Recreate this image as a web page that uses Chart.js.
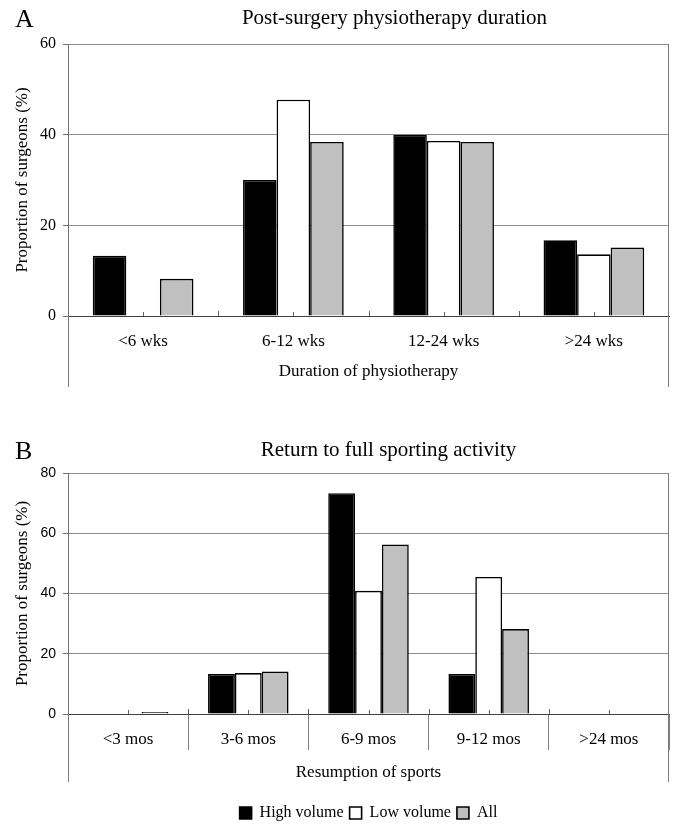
<!DOCTYPE html>
<html>
<head>
<meta charset="utf-8">
<script src="https://cdn.jsdelivr.net/npm/chart.js@4.4.1/dist/chart.umd.min.js"></script>
<style>
  html, body { margin: 0; padding: 0; background: #fff; overflow: hidden; }
  #wrapA { position: absolute; left: 0; top: 0; width: 674px; height: 400px; }
  #wrapB { position: absolute; left: 0; top: 400px; width: 674px; height: 431px; }
</style>
</head>
<body>
<div id="wrapA"><canvas id="chartA" width="674" height="400"></canvas></div>
<div id="wrapB"><canvas id="chartB" width="674" height="431"></canvas></div>
<script>
// Survey answers, % of surgeons in each group
const seriesNames = ['High volume', 'Low volume', 'All'];

const physioCategories = ['<6 wks', '6-12 wks', '12-24 wks', '>24 wks'];
const physioHigh = [13.3, 30.0, 40.0, 16.7];
const physioLow  = [0, 47.7, 38.6, 13.6];
const physioAll  = [8.2, 38.4, 38.4, 15.1];
const physioTicks = [0, 20, 40, 60];

const sportCategories = ['<3 mos', '3-6 mos', '6-9 mos', '9-12 mos', '>24 mos'];
const sportHigh = [0, 13.3, 73.3, 13.3, 0];
const sportLow  = [0, 13.6, 40.9, 45.5, 0];
const sportAll  = [0.7, 14.1, 56.3, 28.2, 0];
const sportTicks = [0, 20, 40, 60, 80];

const SERIF = '"Liberation Serif", "Times New Roman", serif';
const SANS = '"Liberation Sans", Arial, sans-serif';
const fills = ['#000000', '#ffffff', '#c0c0c0'];
const labelFont = { family: SERIF, size: 17 };

function makeDatasets(values) {
  return values.map((v, i) => ({
    label: seriesNames[i],
    data: v,
    backgroundColor: fills[i],
    borderColor: '#000000',
    borderWidth: 1.6,
    barPercentage: 1.0,
    categoryPercentage: 0.67
  }));
}

// Panel letter, heading, axis lines running below the zero line, small ticks on the zero line
function panelDecor(letter, heading, headingY, headingShift, extend) {
  return {
    id: 'panelDecor' + letter,
    afterLayout(chart) {
      // keep the legend row centred under the plot area
      const lg = chart.legend;
      if (lg && lg.options.display) {
        const a = chart.chartArea;
        const shift = (a.left + a.right) / 2 - (lg.left + lg.right) / 2;
        lg.left += shift;
        lg.right += shift;
      }
    },
    afterDatasetsDraw(chart) {
      const { ctx, chartArea: a } = chart;
      const xs = chart.scales.x;
      const n = chart.data.labels.length;
      ctx.save();
      ctx.strokeStyle = '#7a7a7a';
      ctx.lineWidth = 1;
      ctx.beginPath();
      ctx.moveTo(Math.round(a.left) + 0.5, a.bottom);
      ctx.lineTo(Math.round(a.left) + 0.5, a.bottom + extend);
      ctx.moveTo(Math.round(a.right) - 0.5, a.top);
      ctx.lineTo(Math.round(a.right) - 0.5, a.bottom + extend);
      ctx.stroke();
      ctx.strokeStyle = '#606060';
      ctx.beginPath();
      for (let i = 0; i < n; i++) {
        const c = Math.round(xs.getPixelForValue(i)) + 0.5;
        ctx.moveTo(c, a.bottom);
        ctx.lineTo(c, a.bottom - 4);
        if (i > 0) {
          const b = Math.round(xs.getPixelForValue(i - 0.5)) + 0.5;
          ctx.moveTo(b, a.bottom);
          ctx.lineTo(b, a.bottom - 5);
        }
      }
      ctx.stroke();
      ctx.restore();
    },
    afterDraw(chart) {
      const { ctx, chartArea: a } = chart;
      ctx.save();
      ctx.fillStyle = '#000';
      ctx.textBaseline = 'middle';
      ctx.font = '26px ' + SERIF;
      ctx.textAlign = 'left';
      ctx.fillText(letter, 15, headingY + 2);
      ctx.font = '21px ' + SERIF;
      ctx.textAlign = 'center';
      ctx.fillText(heading, (a.left + a.right) / 2 + headingShift, headingY);
      ctx.restore();
    }
  };
}

function yScale(ticksList, tickFont) {
  return {
    min: ticksList[0],
    max: ticksList[ticksList.length - 1],
    afterBuildTicks: s => { s.ticks = ticksList.map(v => ({ value: v })); },
    afterFit: s => { s.width = 68; },
    grid: {
      color: c => (c.tick && c.tick.value === 0 ? '#404040' : '#8c8c8c'),
      tickColor: '#707070',
      lineWidth: 1,
      tickLength: 5
    },
    border: { display: true, color: '#707070', width: 1 },
    ticks: { font: tickFont, color: '#000', padding: 7 },
    title: {
      display: true,
      text: 'Proportion of surgeons (%)',
      font: labelFont,
      color: '#000',
      padding: { top: 12, bottom: 0 }
    }
  };
}

Chart.defaults.animation = false;

new Chart(document.getElementById('chartA'), {
  type: 'bar',
  data: {
    labels: physioCategories,
    datasets: makeDatasets([physioHigh, physioLow, physioAll])
  },
  options: {
    responsive: false,
    devicePixelRatio: 1,
    layout: { padding: { top: 44, right: 5, left: 0, bottom: 0 } },
    plugins: { legend: { display: false }, tooltip: { enabled: false } },
    scales: {
      x: {
        afterFit: s => { s.height = 84; },
        grid: { display: false, drawTicks: false },
        border: { display: true, color: '#404040', width: 1 },
        ticks: { font: labelFont, color: '#000', padding: 15 },
        title: {
          display: true,
          text: 'Duration of physiotherapy',
          font: labelFont,
          color: '#000',
          padding: { top: 0, bottom: 18 }
        }
      },
      y: yScale(physioTicks, { family: SERIF, size: 16 })
    }
  },
  plugins: [panelDecor('A', 'Post-surgery physiotherapy duration', 18, 26, 71)]
});

new Chart(document.getElementById('chartB'), {
  type: 'bar',
  data: {
    labels: sportCategories,
    datasets: makeDatasets([sportHigh, sportLow, sportAll])
  },
  options: {
    responsive: false,
    devicePixelRatio: 1,
    layout: { padding: { top: 73, right: 5, left: 0, bottom: 0 } },
    plugins: {
      tooltip: { enabled: false },
      legend: {
        display: true,
        position: 'bottom',
        labels: {
          font: { family: SERIF, size: 16 },
          color: '#000',
          boxWidth: 12,
          boxHeight: 12,
          padding: 6
        }
      }
    },
    scales: {
      x: {
        afterFit: s => { s.height = 85; },
        grid: {
          display: true,
          offset: true,
          drawOnChartArea: false,
          drawTicks: true,
          tickLength: 36,
          color: '#808080'
        },
        border: { display: true, color: '#404040', width: 1 },
        ticks: { font: labelFont, color: '#000', padding: -21 },
        title: {
          display: true,
          text: 'Resumption of sports',
          font: labelFont,
          color: '#000',
          padding: { top: 0, bottom: 16 }
        }
      },
      y: yScale(sportTicks, { family: SANS, size: 14 })
    }
  },
  plugins: [panelDecor('B', 'Return to full sporting activity', 50, 20, 68)]
});
</script>
</body>
</html>
